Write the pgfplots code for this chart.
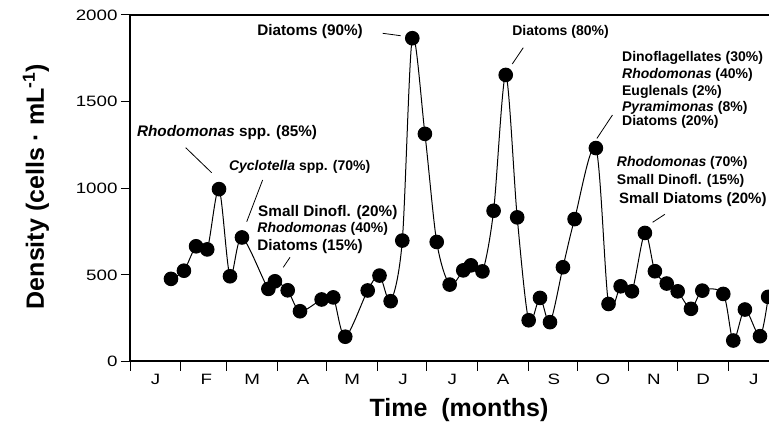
\documentclass[border=0pt]{standalone}
\usepackage{fontspec}
\setmainfont{Liberation Sans}
\newfontfamily\tickfont{Liberation Sans}[FakeStretch=1.25]
\usepackage{pgfplots}
\pgfplotsset{compat=1.18}
\newcommand\annfont{\fontsize{14bp}{16bp}\selectfont\bfseries}
\newcommand\annfontb{\fontsize{15.3bp}{18bp}\selectfont\bfseries}
\pgfplotstableread{
x y
25.0 477
32.9 524
40.3 665
47.1 647
54.3 995
61.0 492
68.3 716
84.4 419
88.4 463
96.2 411
103.7 290
116.9 358
124.0 370
131.3 143
145.0 410
152.2 496
159.0 348
166.1 698
172.2 1866
179.9 1314
187.1 690
195.0 444
203.3 526
208.0 555
215.0 520
221.8 870
229.2 1654
236.2 832
243.2 238
250.1 367
256.2 227
264.1 544
271.2 822
284.2 1232
291.9 332
299.3 434
306.2 405
314.1 742
320.2 521
327.4 450
334.1 405
342.2 304
349.1 409
361.9 390
368.0 121
375.1 300
384.3 146
389.3 373
}\density
\begin{document}
\begin{tikzpicture}
\useasboundingbox (0,0) rectangle (769bp,432bp);
\begin{axis}[
  at={(130bp,70.5bp)}, anchor=south west,
  scale only axis, width=639bp, height=346.5bp,
  xmin=0, xmax=389.8, ymin=0, ymax=2000,
  clip=false,
  axis line style={draw=none},
  tick align=outside, tick pos=left,
  major tick length=9bp,
  tick style={black, line width=1bp},
  ytick={0,500,1000,1500,2000},
  xtick={0,31,59,90,120,151,181,212,243,273,304,334,365},
  xticklabels={J,F,M,A,M,J,J,A,S,O,N,D,J},
  xticklabel style={xshift=25.5bp},
  ticklabel style={font=\tickfont\fontsize{15bp}{18bp}\selectfont},
  yticklabel style={/pgf/number format/1000 sep={}},
  /pgf/number format/assume math mode=true,
]
\draw[line width=2bp] (rel axis cs:1,1) -- (rel axis cs:0,1) -- (rel axis cs:0,0) -- (rel axis cs:1,0);
\addplot[black, line width=1bp, smooth, tension=0.5, mark=*, mark size=6.8bp, mark options={fill=black, solid}] table {\density};

\node[font=\annfontb, inner sep=0pt] at (axis cs:59.2,1318.9) {\textit{Rhodomonas} spp. (85\%)};
\draw[line width=0.8bp] (axis cs:34.0,1234) -- (axis cs:49.8,1089.8);
\node[font=\annfont, inner sep=0pt] at (axis cs:103.5,1124.4) {\textit{Cyclotella} spp. (70\%)};
\draw[line width=0.8bp] (axis cs:80.9,1047.6) -- (axis cs:71.2,806.9);
\node[font=\annfontb, inner sep=0pt, anchor=west] at (axis cs:78.1,861.2) {Small Dinofl. (20\%)};
\node[font=\annfont, inner sep=0pt, anchor=west] at (axis cs:77.6,764.8) {\textit{Rhodomonas} (40\%)};
\node[font=\annfontb, inner sep=0pt, anchor=west] at (axis cs:77.6,662.6) {Diatoms (15\%)};
\draw[line width=0.8bp] (axis cs:97.6,601.4) -- (axis cs:93.5,543.7);
\node[font=\annfontb, inner sep=0pt, anchor=east] at (axis cs:142.1,1901.9) {Diatoms (90\%)};
\draw[line width=0.8bp] (axis cs:154.1,1894.4) -- (axis cs:165.1,1880.5);
\node[font=\annfont, inner sep=0pt] at (axis cs:262.6,1903.6) {Diatoms (80\%)};
\draw[line width=0.8bp] (axis cs:239.9,1811.3) -- (axis cs:233.2,1717.2);
\node[font=\annfont, inner sep=0pt, anchor=west] at (axis cs:300.1,1751.8) {Dinoflagellates (30\%)};
\node[font=\annfont, inner sep=0pt, anchor=west] at (axis cs:300.1,1653.7) {\textit{Rhodomonas} (40\%)};
\node[font=\annfont, inner sep=0pt, anchor=west] at (axis cs:300.1,1555.6) {Euglenals (2\%)};
\node[font=\annfont, inner sep=0pt, anchor=west] at (axis cs:300.1,1465.0) {\textit{Pyramimonas} (8\%)};
\node[font=\annfont, inner sep=0pt, anchor=west] at (axis cs:300.1,1380.7) {Diatoms (20\%)};
\draw[line width=0.8bp] (axis cs:294.3,1422.8) -- (axis cs:284.8,1287.2);
\node[font=\annfont, inner sep=0pt, anchor=west] at (axis cs:296.9,1144.0) {\textit{Rhodomonas} (70\%)};
\node[font=\annfont, inner sep=0pt, anchor=west] at (axis cs:296.9,1041.9) {Small Dinofl. (15\%)};
\node[font=\fontsize{15bp}{18bp}\selectfont\bfseries, inner sep=0pt, anchor=west] at (axis cs:298.2,932.2) {Small Diatoms (20\%)};
\draw[line width=0.8bp] (axis cs:326.3,849.6) -- (axis cs:318.8,803.5);
\end{axis}
\node[rotate=90, font=\fontsize{25bp}{30bp}\selectfont\bfseries] at (36bp,245.5bp) {Density (cells · mL\textsuperscript{-1})};
\node[font=\fontsize{25bp}{30bp}\selectfont\bfseries] at (459bp,22bp) {Time\ \ (months)};
\end{tikzpicture}
\end{document}
